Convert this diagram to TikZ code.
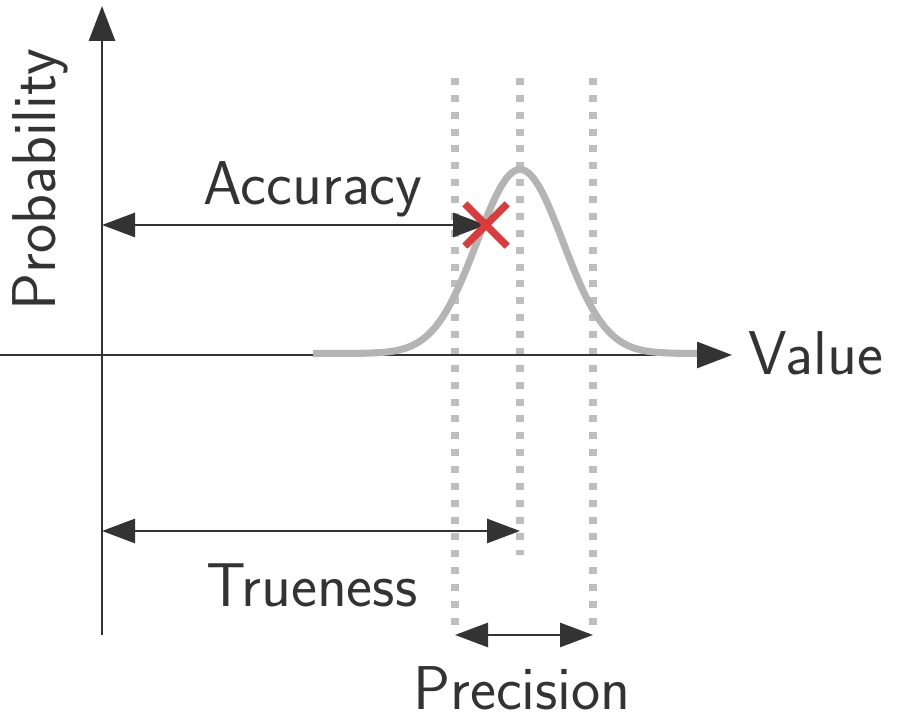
\documentclass[tikz,border=0pt]{standalone}
\usepackage{xcolor}
\definecolor{cAxis}{HTML}{333333}
\definecolor{cGuide}{HTML}{BEBEBE}
\definecolor{cCurve}{HTML}{B4B4B4}
\definecolor{cMark}{HTML}{DD3B3B}
\usepackage{tikz}
\usetikzlibrary{positioning,arrows.meta,shapes.misc}
\tikzset{
  axis-arrow/.style={-{Triangle[length=3.5mm,width=2.6mm]},line width=0.8pt,draw=cAxis},
  dim-arrow/.style={{Triangle[length=3.3mm,width=2.4mm]}-{Triangle[length=3.3mm,width=2.4mm]},
    line width=0.8pt,draw=cAxis},
  guide-line/.style={draw=cGuide,line width=2pt,dash pattern=on 2pt off 2.8pt},
  curve-line/.style={draw=cCurve,line width=2pt},
  hit-mark/.style={cross out,draw=cMark,line width=2pt,minimum size=3.5mm,inner sep=0pt},
  label-text/.style={font=\sffamily\fontsize{17.6}{20}\selectfont,text=cAxis,inner sep=0pt},
}

\begin{document}
\begin{tikzpicture}
  \useasboundingbox (0,0) rectangle (8.97,7.17);
  % axes and guides
  \coordinate (origin) at (1.02,3.62);
  \coordinate (x-start) at (0,3.62);
  \coordinate (x-end) at (7.32,3.62);
  \coordinate (y-start) at (1.02,0.82);
  \coordinate (y-end) at (1.02,7.11);
  \coordinate (g1-top) at (4.55,6.39);
  \coordinate (g1-bot) at (4.55,0.92);
  \coordinate (g2-top) at (5.20,6.39);
  \coordinate (g2-bot) at (5.20,1.62);
  \coordinate (g3-top) at (5.93,6.39);
  \coordinate (g3-bot) at (5.93,0.92);
  \draw[guide-line] (g1-top) -- (g1-bot);
  \draw[guide-line] (g2-top) -- (g2-bot);
  \draw[guide-line] (g3-top) -- (g3-bot);
  \draw[axis-arrow] (x-start) -- (x-end);
  \draw[axis-arrow] (y-start) -- (y-end);
  \node[label-text,anchor=base west] (value) at (7.48,3.42) {Value};
  \node[label-text,rotate=90,anchor=base] (prob) at (0.55,5.37) {Probability};
  % distribution
  \draw[curve-line] plot[domain=3.13:6.97,samples=120]
    (\x,{3.635+1.84*exp(-((\x-5.2)^2)/(2*0.43^2))});
  % measures
  \node[hit-mark] (hit) at (4.86,4.92) {};
  \coordinate (acc-start) at (1.02,4.92);
  \coordinate (true-start) at (1.02,1.86);
  \coordinate (true-end) at (5.20,1.86);
  \coordinate (prec-start) at (4.55,0.82);
  \coordinate (prec-end) at (5.93,0.82);
  \draw[dim-arrow] (acc-start) -- (hit.center);
  \node[hit-mark] at (hit) {};
  \draw[dim-arrow] (true-start) -- (true-end);
  \draw[dim-arrow] (prec-start) -- (prec-end);
  \node[label-text,anchor=base] (acc) at (3.13,5.12) {Accuracy};
  \node[label-text,anchor=base] (true) at (3.12,1.10) {Trueness};
  \node[label-text,anchor=base] (prec) at (5.22,0.07) {Precision};
\end{tikzpicture}
\end{document}
